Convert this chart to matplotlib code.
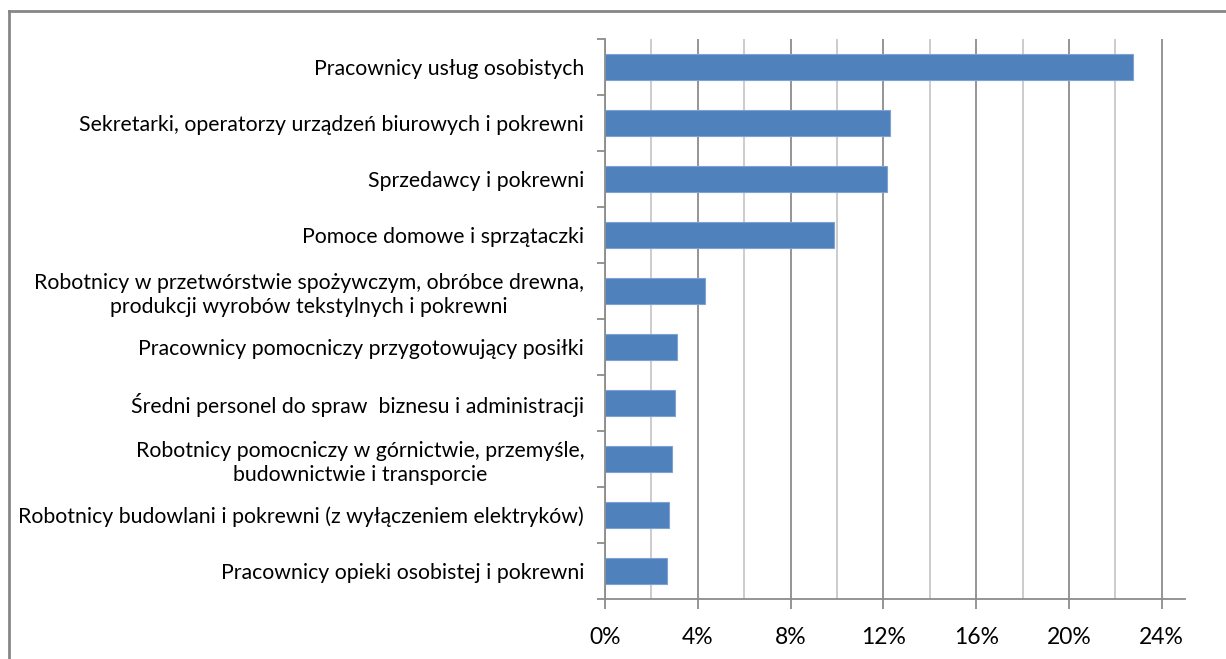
import matplotlib
matplotlib.use("Agg")
import matplotlib.pyplot as plt
from matplotlib.ticker import FixedLocator, FuncFormatter
from matplotlib.lines import Line2D
import numpy as np

categories = [
    "Pracownicy usług osobistych",
    "Sekretarki, operatorzy urządzeń biurowych i pokrewni",
    "Sprzedawcy i pokrewni",
    "Pomoce domowe i sprzątaczki",
    "Robotnicy w przetwórstwie spożywczym, obróbce drewna,\nprodukcji wyrobów tekstylnych i pokrewni",
    "Pracownicy pomocniczy przygotowujący posiłki",
    "Średni personel do spraw  biznesu i administracji",
    "Robotnicy pomocniczy w górnictwie, przemyśle,\nbudownictwie i transporcie",
    "Robotnicy budowlani i pokrewni (z wyłączeniem elektryków)",
    "Pracownicy opieki osobistej i pokrewni",
]
values = [22.75, 12.3, 12.15, 9.85, 4.3, 3.12, 3.0, 2.88, 2.76, 2.68]
xticks = [0, 4, 8, 12, 16, 20, 24]

plt.rcParams['font.family'] = ['Lato', 'DejaVu Sans']

fig = plt.figure(figsize=(12.26, 6.59), dpi=100)
ax = fig.add_axes([605/1226, 1-599/659, (1185-605)/1226, (599-39)/659])

n = len(categories)
ypos = np.arange(n)[::-1]
ax.barh(ypos, values, height=0.45, color='#4f81bd', edgecolor='#7ea3d2', linewidth=0.8, zorder=3)

ax.set_xlim(0, 25)
ax.set_ylim(-0.5, n - 0.5)

# x ticks / grid
ax.xaxis.set_major_locator(FixedLocator(xticks))
ax.xaxis.set_minor_locator(FixedLocator([2, 6, 10, 14, 18, 22]))
ax.xaxis.set_major_formatter(FuncFormatter(lambda v, p: f"{int(v)}%"))
ax.grid(axis='x', which='major', color='#8c8c8c', linewidth=1.3, zorder=0)
ax.grid(axis='x', which='minor', color='#c8c8c8', linewidth=1.3, zorder=0)
ax.tick_params(axis='x', which='major', length=7, width=1.3, color='#8c8c8c', labelsize=16.5, pad=13, labelcolor='black')
ax.tick_params(axis='x', which='minor', length=0)

# y ticks: boundaries as major ticks, labels on minor
ax.yaxis.set_major_locator(FixedLocator(np.arange(-0.5, n, 1.0)))
ax.yaxis.set_major_formatter(FuncFormatter(lambda v, p: ""))
ax.yaxis.set_minor_locator(FixedLocator(ypos))
ax.set_yticklabels(categories, minor=True)
ax.tick_params(axis='y', which='major', length=6, width=1.3, color='#8c8c8c')
ax.tick_params(axis='y', which='minor', length=0, pad=15, labelsize=15.3)
for lbl in ax.get_yticklabels(minor=True):
    lbl.set_multialignment('center')
    lbl.set_linespacing(1.22)

for s in ['top', 'right']:
    ax.spines[s].set_visible(False)
for s in ['left', 'bottom']:
    ax.spines[s].set_color('#8c8c8c')
    ax.spines[s].set_linewidth(1.3)
    ax.spines[s].set_zorder(4)

# outer chart border (left and top edges visible)
bx = 8.5 / 1226
by = 1 - 10.5 / 659
fig.add_artist(Line2D([bx, bx], [0, by], transform=fig.transFigure, color='#868686', linewidth=2))
fig.add_artist(Line2D([bx, 1], [by, by], transform=fig.transFigure, color='#868686', linewidth=2))

fig.savefig('out.png', dpi=100)
